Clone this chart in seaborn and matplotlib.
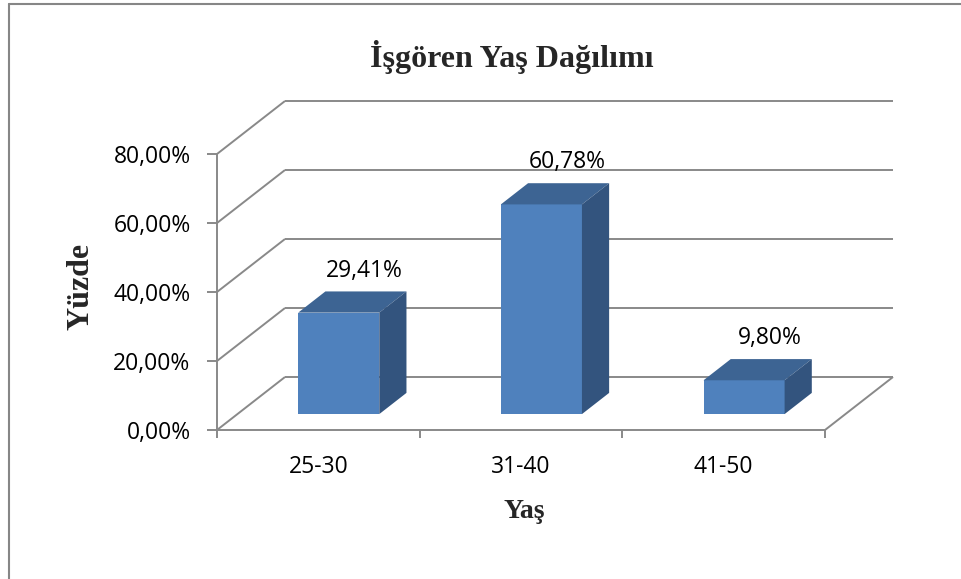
import numpy as np
import pandas as pd
import matplotlib
matplotlib.use("Agg")
import matplotlib.pyplot as plt
from matplotlib.patches import Polygon
from matplotlib.lines import Line2D
import seaborn as sns

# ---------------- data ----------------
categories = ["25-30", "31-40", "41-50"]
percentages = [29.41, 60.78, 9.80]
y_ticks = [0, 20, 40, 60, 80]
title_text = "İşgören Yaş Dağılımı"
x_label = "Yaş"
y_label = "Yüzde"

# ---------------- style ----------------
sns.set_theme(style="white")
plt.rcParams['font.family'] = ['Open Sans', 'DejaVu Sans']
SERIF = ['Liberation Serif', 'DejaVu Serif']

front_color = "#4F81BD"
top_color = "#3D6493"
side_color = "#33547E"
grid_color = "#898989"
lw_grid = 1.4

W, H = 961, 579
fig = plt.figure(figsize=(W / 100, H / 100), dpi=100)

# geometry of the pseudo-3D frame (pixels)
x_front_left, x_front_right = 217, 825
y_zero, y_top = 430, 154
depth_px = (68, 53)
n = len(categories)
ux = (x_front_right - x_front_left) / n
uy = (y_zero - y_top) / y_ticks[-1]
DX = depth_px[0] / ux
DY = depth_px[1] / uy
xmin = -0.5
xmax = n - 0.5 + DX
ymax = y_ticks[-1] + DY
ax_w = (xmax - xmin) * ux
ax_h = ymax * uy
ax = fig.add_axes([x_front_left / W, (H - y_zero) / H, ax_w / W, ax_h / H])
ax.patch.set_alpha(0)

df = pd.DataFrame({"Yaş": categories, "Yüzde": percentages})
sns.barplot(data=df, x="Yaş", y="Yüzde", color=front_color, saturation=1,
            width=0.4, errorbar=None, ax=ax, zorder=3, linewidth=0)

ax.set_xlim(xmin, xmax)
ax.set_ylim(0, ymax)

# back wall + side wall gridlines
grid_kw = dict(color=grid_color, lw=lw_grid, clip_on=False, zorder=1,
               solid_capstyle='butt')
for t in y_ticks:
    ax.plot([xmin + DX, xmax], [t + DY, t + DY], **grid_kw)
    ax.plot([xmin, xmin + DX], [t, t + DY], **grid_kw)
ax.plot([n - 0.5, xmax], [0, DY], **grid_kw)

# 3D bars: shift front faces into depth, add top and side faces
front_off, bar_depth = 0.3, 0.4
for p, v in zip(ax.patches, percentages):
    x0 = p.get_x() + front_off * DX
    y0 = front_off * DY
    p.set_x(x0)
    p.set_y(y0)
    w = p.get_width()
    x1 = x0 + w
    y1 = y0 + p.get_height()
    bx, by = bar_depth * DX, bar_depth * DY
    top = Polygon([(x0, y1), (x1, y1), (x1 + bx, y1 + by), (x0 + bx, y1 + by)],
                  closed=True, facecolor=top_color, edgecolor='none', zorder=3,
                  clip_on=False)
    side = Polygon([(x1, y0), (x1 + bx, y0 + by), (x1 + bx, y1 + by), (x1, y1)],
                   closed=True, facecolor=side_color, edgecolor='none', zorder=3,
                   clip_on=False)
    ax.add_patch(top)
    ax.add_patch(side)
    label = f"{v:.2f}%".replace('.', ',')
    ax.annotate(label, xy=(x0 + w / 2 + bx * 0.95, y1 + by), xytext=(0, 15),
                textcoords='offset points', ha='center', va='center',
                fontsize=16.5, color='black', annotation_clip=False)

# spines / axes
for s in ['top', 'right']:
    ax.spines[s].set_visible(False)
for s in ['left', 'bottom']:
    ax.spines[s].set_color(grid_color)
    ax.spines[s].set_linewidth(lw_grid)
    ax.spines[s].set_zorder(2)
ax.spines['left'].set_bounds(0, y_ticks[-1])
ax.spines['bottom'].set_bounds(-0.5, n - 0.5)

ax.set_yticks(y_ticks)
ax.set_yticklabels([f"{t:.2f}%".replace('.', ',') for t in y_ticks])
ax.tick_params(axis='y', which='major', left=True, length=7, width=lw_grid,
               color=grid_color, direction='out', pad=12, labelsize=16.5,
               labelcolor='black')
ax.set_xticks(range(n))
ax.set_xticklabels(categories)
ax.tick_params(axis='x', which='major', bottom=True, length=0, pad=18,
               labelsize=16.5, labelcolor='black')
ax.set_xticks([i - 0.5 for i in range(n + 1)], minor=True)
ax.tick_params(axis='x', which='minor', bottom=True, length=5.5, width=lw_grid,
               color=grid_color, direction='out')
ax.set_xlabel("")
ax.set_ylabel("")

# titles / axis labels
fig.text(512 / W, 1 - 57 / H, title_text, ha='center', va='center',
         fontsize=23, fontweight='bold', family=SERIF)
fig.text(81 / W, 1 - 286 / H, y_label, ha='center', va='center', rotation=90,
         fontsize=23, fontweight='bold', family=SERIF)
fig.text(524 / W, 1 - 511 / H, x_label, ha='center', va='center',
         fontsize=20, fontweight='bold', family=SERIF)

# chart border
fig.add_artist(Line2D([8.5 / W, 8.5 / W], [0, 1 - 4 / H], transform=fig.transFigure,
                      color='#868686', lw=1.5))
fig.add_artist(Line2D([8.5 / W, 1], [1 - 4 / H, 1 - 4 / H], transform=fig.transFigure,
                      color='#868686', lw=1.5))

fig.savefig("out.png", dpi=100)
